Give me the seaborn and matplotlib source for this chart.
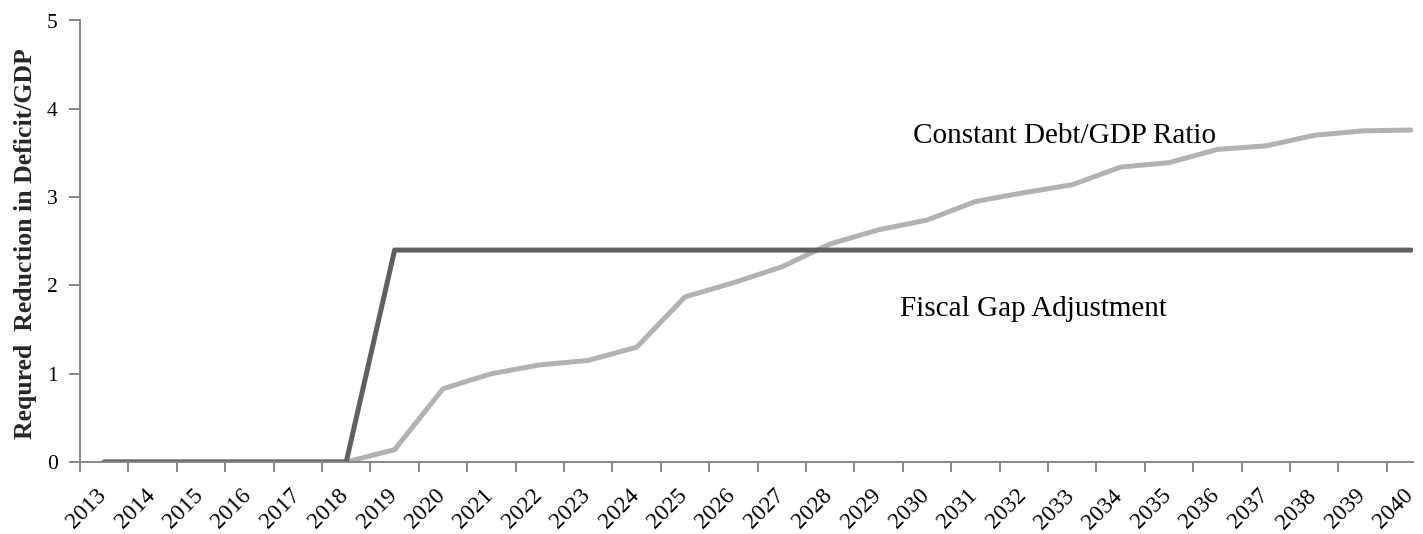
import matplotlib
matplotlib.use('Agg')
import matplotlib.pyplot as plt
import matplotlib.transforms as mtransforms
import seaborn as sns
import pandas as pd
import numpy as np

# data
years = [str(y) for y in range(2013, 2041)]
fiscal_gap = [0, 0, 0, 0, 0, 0, 2.4, 2.4, 2.4, 2.4, 2.4, 2.4, 2.4, 2.4,
              2.4, 2.4, 2.4, 2.4, 2.4, 2.4, 2.4, 2.4, 2.4, 2.4, 2.4, 2.4, 2.4, 2.4]
constant_ratio = [0, 0, 0, 0, 0, 0, 0.14, 0.83, 1.0, 1.10, 1.15, 1.30, 1.87, 2.03,
                  2.21, 2.47, 2.63, 2.74, 2.95, 3.05, 3.14, 3.34, 3.39, 3.54,
                  3.58, 3.70, 3.75, 3.76]
y_ticks = [0, 1, 2, 3, 4, 5]

sns.set_style('white')
plt.rcParams['font.family'] = ['Liberation Serif', 'DejaVu Serif']
plt.rcParams['text.color'] = 'black'

df = pd.DataFrame({
    'pos': list(range(len(years))) * 2,
    'value': fiscal_gap + constant_ratio,
    'series': ['Fiscal Gap Adjustment'] * len(years) + ['Constant Debt/GDP Ratio'] * len(years),
})

fig = plt.figure(figsize=(14.23, 5.34), dpi=100)
ax = fig.add_axes([80 / 1423, 72 / 534, 1333 / 1423, 441.5 / 534])

sns.lineplot(data=df, x='pos', y='value', hue='series',
             palette={'Fiscal Gap Adjustment': '#606060',
                      'Constant Debt/GDP Ratio': '#b2b2b2'},
             hue_order=['Constant Debt/GDP Ratio', 'Fiscal Gap Adjustment'],
             linewidth=3.6, legend=False, ax=ax)
for ln in ax.get_lines():
    ln.set_solid_capstyle('round')
    ln.set_solid_joinstyle('round')

ax.set_xlim(-0.5, 27.04)
ax.set_ylim(0, 5)

# category labels at centres, tick marks at boundaries
ax.set_xticks(range(len(years)))
ax.set_xticklabels(years, rotation=45, ha='right', va='center',
                   rotation_mode='anchor', fontsize=16.8, color='black')
ax.set_xticks(np.arange(-0.5, 27, 1), minor=True)
ax.tick_params(axis='x', which='major', length=0, pad=22, bottom=False)
ax.tick_params(axis='x', which='minor', length=7, width=1.4, color='#868686',
               direction='out', bottom=True)
shift = mtransforms.ScaledTranslation(-1 / 100, 0, fig.dpi_scale_trans)
for lbl in ax.get_xticklabels():
    lbl.set_transform(lbl.get_transform() + shift)

ax.set_yticks(y_ticks)
ax.set_yticklabels([str(t) for t in y_ticks], fontsize=15.5, color='black')
ax.tick_params(axis='y', length=8, width=1.4, color='#868686', direction='out',
               pad=8, left=True)

for side in ['top', 'right']:
    ax.spines[side].set_visible(False)
for side in ['left', 'bottom']:
    ax.spines[side].set_color('#868686')
    ax.spines[side].set_linewidth(1.4)

ax.set_xlabel('')
ax.set_ylabel('Requred  Reduction in Deficit/GDP', fontsize=18.5, fontweight='bold')
ax.yaxis.set_label_coords(-43 / 1333, 0.494)

ax.text(16.71, 3.61, 'Constant Debt/GDP Ratio', fontsize=21, va='baseline', ha='left')
ax.text(16.44, 1.657, 'Fiscal Gap Adjustment', fontsize=21, va='baseline', ha='left')

fig.savefig('out.png', dpi=100)
